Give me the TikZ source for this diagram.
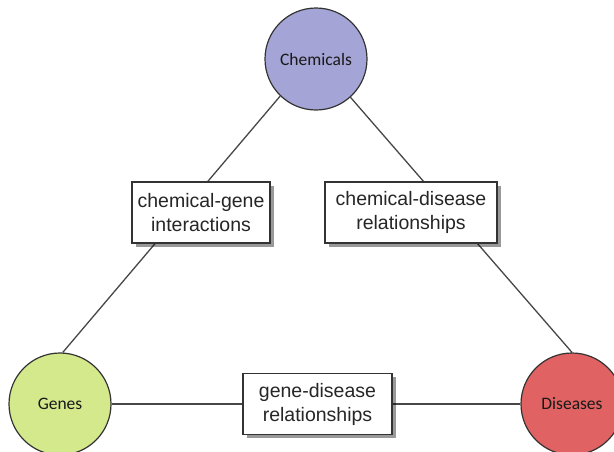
\documentclass[tikz,border=0pt]{standalone}
\usepackage{fontspec}
\setmainfont{Liberation Sans}
\newfontfamily\circfont{Carlito}
\usetikzlibrary{shadows,backgrounds}
\definecolor{chemfill}{HTML}{A4A4D6}
\definecolor{genefill}{HTML}{D4E98C}
\definecolor{disfill}{HTML}{E06262}
\definecolor{edgecol}{HTML}{333333}
\tikzset{
  entity/.style={circle, draw=edgecol, line width=1.2pt, minimum size=102pt, inner sep=0pt,
    font=\circfont\fontsize{17.5}{20}\selectfont, text=black!90},
  relbox/.style={rectangle, draw=edgecol, line width=1.4pt, fill=white, inner sep=0pt,
    minimum height=61pt, align=center, font=\fontsize{19.5}{24}\selectfont, text=black!85,
    drop shadow={shadow xshift=3.5pt, shadow yshift=-3.5pt, fill=black, opacity=0.4}},
  link/.style={draw=edgecol!90, line width=1.3pt}
}
\begin{document}
\begin{tikzpicture}[x=1pt,y=-1pt]
\useasboundingbox (0,0) rectangle (614,451);
\node[entity, fill=chemfill] (chem) at (316,59) {Chemicals};
\node[entity, fill=genefill] (genes) at (60,404) {Genes};
\node[entity, fill=disfill] (dis) at (572,404) {Diseases};
\node[relbox, minimum width=138pt] (cg) at (201,212.5) {chemical-gene\\interactions};
\node[relbox, minimum width=172pt] (cd) at (411,212.5) {chemical-disease\\relationships};
\node[relbox, minimum width=149pt] (gd) at (317.5,404) {gene-disease\\relationships};
\begin{pgfonlayer}{background}
\draw[link] (chem.226.5) -- (genes.87);
\draw[link] (chem.312.6) -- (dis.90);
\draw[link] (genes.east) -- (dis.west);
\end{pgfonlayer}
\end{tikzpicture}
\end{document}
